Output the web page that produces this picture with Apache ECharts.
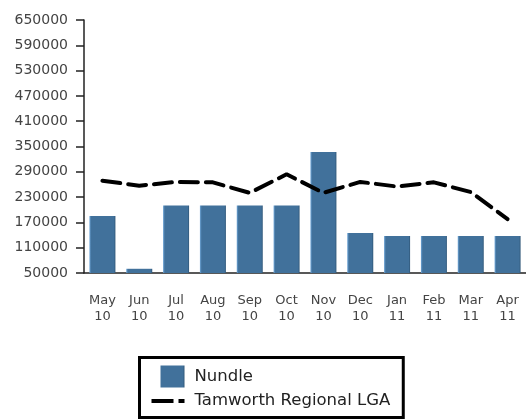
<!DOCTYPE html>
<html>
<head>
<meta charset="utf-8">
<script src="https://cdn.jsdelivr.net/npm/echarts@6/dist/echarts.min.js"></script>
<style>
  html, body { margin: 0; padding: 0; background: #fff; }
  #chart { width: 526px; height: 419px; }
</style>
</head>
<body>
<div id="chart"></div>
<script>
// Monthly figures, May 2010 - April 2011
const months = ['May\n10', 'Jun\n10', 'Jul\n10', 'Aug\n10', 'Sep\n10', 'Oct\n10',
                'Nov\n10', 'Dec\n10', 'Jan\n11', 'Feb\n11', 'Mar\n11', 'Apr\n11'];
const nundle = [185000, 60000, 210000, 210000, 210000, 210000,
                337000, 145000, 138000, 138000, 138000, 138000];
const tamworth = [269000, 257000, 266000, 265000, 240000, 284000,
                  240000, 266000, 255000, 265000, 242000, 178000];
const yMin = 50000;
const yMax = 650000;
const yStep = 60000;

const font = 'DejaVu Sans';
const chart = echarts.init(document.getElementById('chart'), null, { renderer: 'canvas' });

// legend keys: a square swatch, and a long + short dash for the line
const swatchIcon = 'path://M0,0M4,0h24v22h-24z';
const dashIcon = 'path://M0,0h22v4h-22zM27,0h6v4h-6zM38,0';

chart.setOption({
  animation: false,
  backgroundColor: '#ffffff',
  grid: { left: 84, top: 20, width: 451, height: 253, containLabel: false },
  legend: {
    orient: 'vertical',
    left: 139.5,
    top: 357.5,
    padding: [8, 13, 8, 12],
    borderColor: '#000',
    borderWidth: 3,
    backgroundColor: '#fff',
    itemWidth: 38,
    itemHeight: 22,
    itemGap: 5,
    textStyle: { fontFamily: font, fontSize: 16.5, color: '#222' },
    data: [
      { name: 'Nundle', icon: swatchIcon },
      { name: 'Tamworth Regional LGA', icon: dashIcon, itemStyle: { color: '#000' } }
    ]
  },
  xAxis: {
    type: 'category',
    data: months,
    boundaryGap: true,
    axisLine: { lineStyle: { color: '#222', width: 1.5 } },
    axisTick: { alignWithLabel: true, length: 8, lineStyle: { color: '#222', width: 1.5 } },
    axisLabel: {
      fontFamily: font, fontSize: 13, color: '#444',
      lineHeight: 16, margin: 20, interval: 0
    },
    splitLine: { show: false }
  },
  yAxis: {
    type: 'value',
    min: yMin,
    max: yMax,
    interval: yStep,
    axisLine: { show: true, lineStyle: { color: '#222', width: 1.5 } },
    axisTick: { show: true, length: 8, lineStyle: { color: '#222', width: 1.5 } },
    axisLabel: {
      fontFamily: font, fontSize: 14, color: '#444', margin: 16,
      formatter: (v) => String(v)
    },
    splitLine: { show: false }
  },
  series: [
    {
      name: 'Nundle',
      type: 'bar',
      data: nundle,
      barWidth: 26,
      itemStyle: {
        color: new echarts.graphic.LinearGradient(0, 0, 1, 0, [
          { offset: 0, color: '#6fa6d8' },
          { offset: 0.07, color: '#41719b' },
          { offset: 0.94, color: '#41719b' },
          { offset: 1, color: '#2f5677' }
        ])
      }
    },
    {
      name: 'Tamworth Regional LGA',
      type: 'line',
      data: tamworth,
      symbol: 'none',
      smooth: false,
      z: 5,
      lineStyle: { color: '#000', width: 4, type: [18, 8], cap: 'round' },
      itemStyle: { color: '#000' }
    }
  ]
});
</script>
</body>
</html>
